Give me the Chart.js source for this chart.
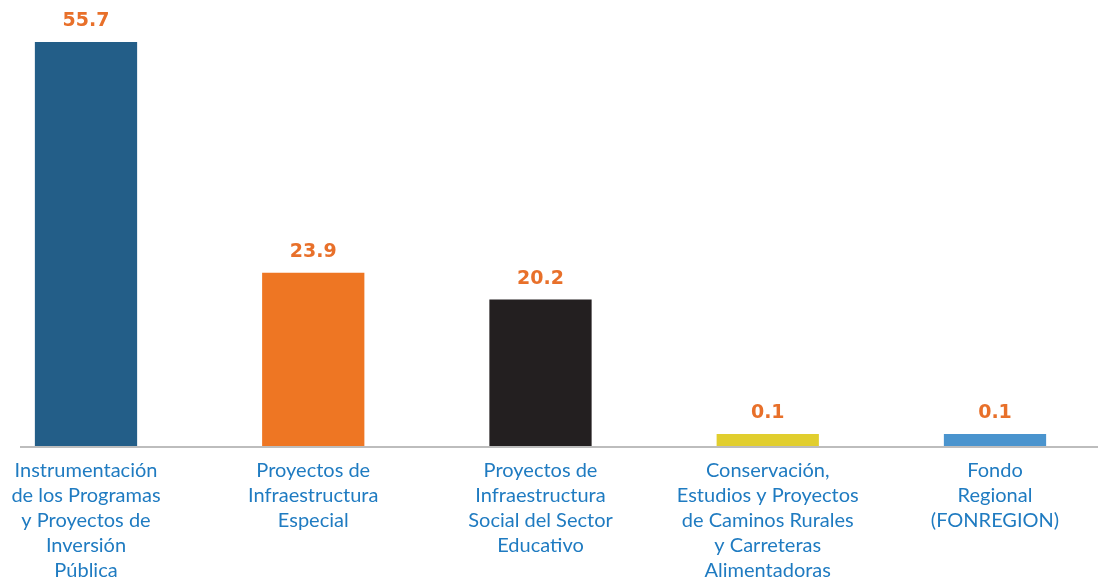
<!DOCTYPE html>
<html>
<head>
<meta charset="utf-8">
<script src="https://cdn.jsdelivr.net/npm/chart.js@4"></script>
<style>
  html, body { margin: 0; padding: 0; background: #fff; }
  #wrap { width: 1098px; height: 578px; position: relative; }
</style>
</head>
<body>
<div id="wrap"><canvas id="chart"></canvas></div>
<script>
// --- DATA ---
const categories = [
    ['Instrumentación', 'de los Programas', 'y Proyectos de', 'Inversión', 'Pública'],
    ['Proyectos de', 'Infraestructura', 'Especial'],
    ['Proyectos de', 'Infraestructura', 'Social del Sector', 'Educativo'],
    ['Conservación,', 'Estudios y Proyectos', 'de Caminos Rurales', 'y Carreteras', 'Alimentadoras'],
    ['Fondo', 'Regional', '(FONREGION)']
];
const values = [55.7, 23.9, 20.2, 0.1, 0.1];
const valueLabels = ['55.7', '23.9', '20.2', '0.1', '0.1'];
const barColors = ['#235e88', '#ee7623', '#231f20', '#e1ce2e', '#4a94ce'];

// --- PLUGINS ---
// grey baseline running under the bars
const baseline = {
    id: 'baseline',
    beforeDatasetsDraw(chart) {
        const ctx = chart.ctx;
        const y = chart.scales.y.getPixelForValue(0) + 1;
        ctx.save();
        ctx.strokeStyle = '#bdbdbd';
        ctx.lineWidth = 2;
        ctx.beginPath();
        ctx.moveTo(chart.chartArea.left - 66, y);
        ctx.lineTo(chart.width, y);
        ctx.stroke();
        ctx.restore();
    }
};

// value labels above each bar
const topLabels = {
    id: 'topLabels',
    afterDatasetsDraw(chart) {
        const ctx = chart.ctx;
        const meta = chart.getDatasetMeta(0);
        ctx.save();
        ctx.fillStyle = '#e8702a';
        ctx.font = 'bold 19px "DejaVu Sans"';
        ctx.textAlign = 'center';
        ctx.textBaseline = 'bottom';
        meta.data.forEach((bar, i) => {
            ctx.fillText(valueLabels[i], bar.x, bar.y - 11);
        });
        ctx.restore();
    }
};

const ctx = document.getElementById('chart').getContext('2d');
const myChart = new Chart(ctx, {
    type: 'bar',
    data: {
        labels: categories,
        datasets: [{
            data: values,
            backgroundColor: barColors,
            borderWidth: 0,
            barPercentage: 0.9,
            categoryPercentage: 0.5,
            minBarLength: 12,
            clip: false
        }]
    },
    options: {
        responsive: true,
        maintainAspectRatio: false,
        animation: false,
        layout: { padding: { left: 86, right: 103, top: 0, bottom: -9 } },
        plugins: { legend: { display: false }, tooltip: { enabled: false } },
        scales: {
            x: {
                offset: false,
                grid: { display: false },
                border: { display: false },
                ticks: {
                    color: '#1f7bc1',
                    font: { family: 'Lato', size: 20, lineHeight: 1.25 },
                    padding: 4,
                    maxRotation: 0,
                    autoSkip: false
                }
            },
            y: {
                display: false,
                min: 0,
                max: 61.5
            }
        }
    },
    plugins: [baseline, topLabels]
});
</script>
</body>
</html>
